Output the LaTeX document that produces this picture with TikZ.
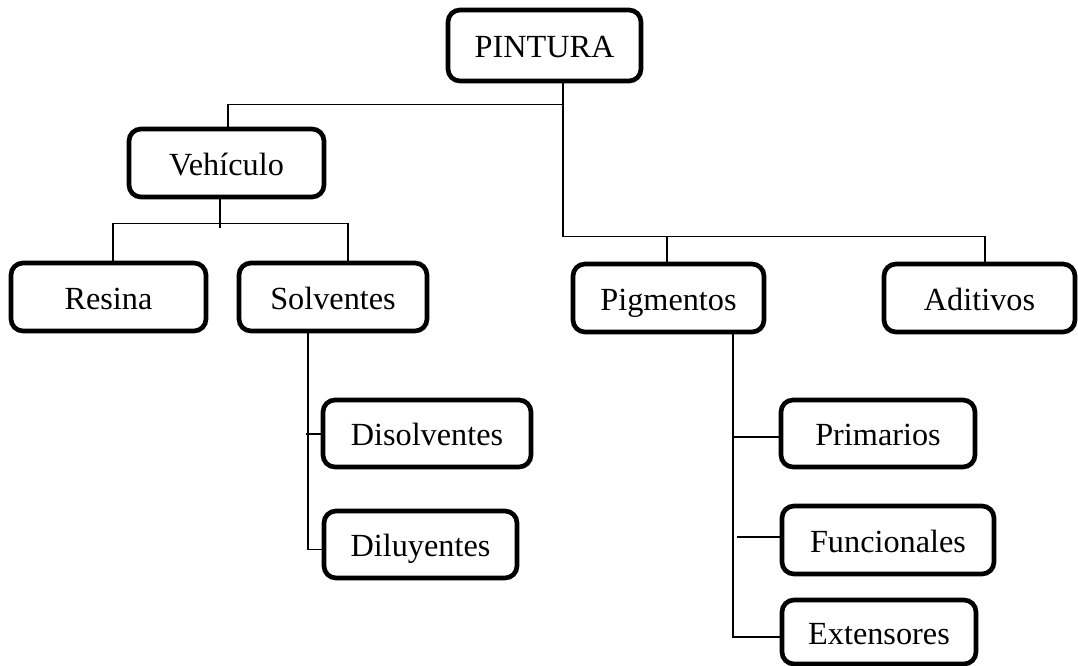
\documentclass[tikz,border=0pt]{standalone}
\usepackage{fontspec}
\setmainfont{Liberation Serif}
\usetikzlibrary{calc}

\tikzset{
  box/.style={draw=black, line width=3.5pt, rounded corners=9pt, fill=white,
    inner sep=0pt, text height=18.4pt, text depth=0pt,
    font=\fontsize{24.2}{29}\selectfont},
  link/.style={draw=black, line width=1pt}
}

\begin{document}
\begin{tikzpicture}[x=0.75pt, y=-0.75pt]
  \useasboundingbox (0,0) rectangle (1078,666);

  % boxes (sizes in pt = px * 0.75)
  \node[box, minimum width=144.75pt, minimum height=53.25pt] (pintura) at (544.5,45.5) {PINTURA};
  \node[box, minimum width=146.25pt, minimum height=51pt] (veh) at (226.5,163) {Vehículo};
  \node[box, minimum width=146.25pt, minimum height=51pt] (resina) at (108.5,297) {Resina};
  \node[box, minimum width=141pt, minimum height=51pt] (solv) at (333,297) {Solventes};
  \node[box, minimum width=143.25pt, minimum height=51pt] (pig) at (668.5,298) {Pigmentos};
  \node[box, minimum width=143.25pt, minimum height=51pt] (adit) at (979.5,298) {Aditivos};
  \node[box, minimum width=156pt, minimum height=50.25pt] (disol) at (427,433.5) {Disolventes};
  \node[box, minimum width=144.75pt, minimum height=50.25pt] (dilu) at (420.5,544.5) {Diluyentes};
  \node[box, minimum width=145.5pt, minimum height=50.25pt] (prim) at (878,433.5) {Primarios};
  \node[box, minimum width=159pt, minimum height=51pt] (func) at (888,540) {Funcionales};
  \node[box, minimum width=145.5pt, minimum height=48pt] (ext) at (879,632) {Extensores};

  % main trunk under PINTURA
  \coordinate (trunk) at ($(pintura.south)+(18.5,0)$);
  \draw[link] (trunk) -- ++(0,21) -| ($(veh.north)+(1.5,0)$);
  \draw[link] (trunk) -- ++(0,153) -| ($(pig.north)+(-1.5,0)$);
  \draw[link] ($(trunk)+(0,153)$) -| ($(adit.north)+(5.5,0)$);

  % Vehiculo branch
  \draw[link] ($(veh.south)+(-6.5,0)$) -- ++(0,29);
  \draw[link] ($(resina.north)+(4.5,0)$) -- ++(0,-37) -| ($(solv.north)+(15,0)$);

  % Solventes branch
  \draw[link] ($(solv.south)+(-25,0)$) |- ($(dilu.west)+(0,5)$);
  \draw[link] ($(disol.west)+(0,0.5)$) -- ++(-15,0);

  % Pigmentos branch
  \draw[link] ($(pig.south)+(64.5,0)$) |- ($(ext.west)+(0,5)$);
  \draw[link] ($(prim.west)+(0,3.5)$) -- ++(-45,0);
  \draw[link] ($(func.west)+(0,-3)$) -- ++(-43,0);
\end{tikzpicture}
\end{document}
